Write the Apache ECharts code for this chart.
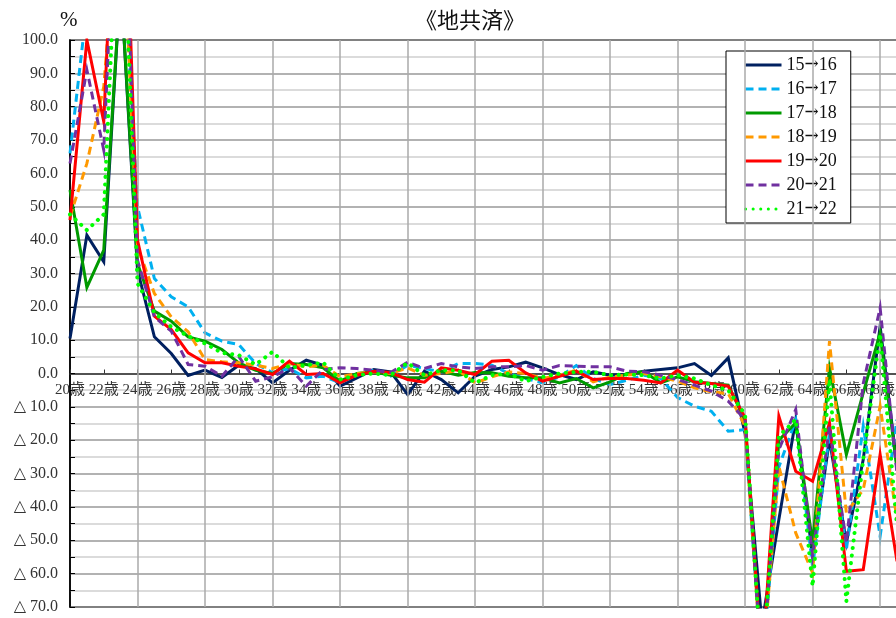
<!DOCTYPE html>
<html><head><meta charset="utf-8">
<script src="https://cdn.jsdelivr.net/npm/echarts@6/dist/echarts.min.js"></script>
<style>html,body{margin:0;padding:0;background:#fff}#c{width:896px;height:618px}</style>
</head><body><div id="c"></div>
<script>
const ages = ['20歳','21歳','22歳','23歳','24歳','25歳','26歳','27歳','28歳','29歳','30歳','31歳','32歳','33歳','34歳','35歳','36歳','37歳','38歳','39歳','40歳','41歳','42歳','43歳','44歳','45歳','46歳','47歳','48歳','49歳','50歳','51歳','52歳','53歳','54歳','55歳','56歳','57歳','58歳','59歳','60歳','61歳','62歳','63歳','64歳','65歳','66歳','67歳','68歳','69歳'];
const gridAges = ['24歳','28歳','32歳','36歳','40歳','44歳','48歳','52歳','56歳','60歳','64歳','68歳'];
const seriesNames = ['15→16','16→17','17→18','18→19','19→20','20→21','21→22'];
const s1516 = [10.5,41.5,33.5,118,31,11,6,-0.6,1,-1.2,2.5,1.5,-2.8,1,4,2.5,-3.8,-1.3,1.2,0.5,-6.3,0.7,-1.8,-5.8,-0.8,1.2,2,3.4,1.7,-0.3,-1.8,0.5,-0.5,-0.3,0.7,1.2,1.7,3,-0.6,4.7,-18,-75,-43.8,-13.8,-54.8,-19.8,-50.7,-25.8,14.2,-27.8];
const s1617 = [66,110,130,140,50,28.5,23,20,12.2,9.7,8.7,3,0.3,1.5,-1.3,-0.8,-2.8,-0.5,1,-0.8,2.5,1.5,0.5,3,3,2.5,0,-1.5,-2.8,-1,2.4,-1.5,-3.3,-2,-0.5,-1.5,-7.2,-9.8,-11.3,-17.3,-16.8,-90,-28,-14,-58,-17.8,-52.8,-15.8,-48.8,-13.8];
const s1718 = [55,25.8,37,118,33,18.7,15.7,11,9.7,7.2,3.2,1,0,3,2.7,1.7,-2.3,0,0.5,-0.5,-1.3,-1.3,0.7,-0.5,0.3,0.2,-0.8,-1.3,-1.3,-2.8,-1.5,-4.3,-2.5,0,0.5,-2.8,-1,-2.5,-3,-3.5,-14,-88,-20,-14.8,-50.8,1.7,-24.3,-5.8,12.2,-28.8];
const s1819 = [47,63,86,150,38,24,17,12.5,4.2,3.5,3.2,2.5,1.5,3,2,2.5,-1,0,0.5,0,1.7,-0.5,0,1,-2.8,-1,0.5,0,-1.5,-0.5,1,-2.5,-1,-0.5,0,-1,-2.3,-4.3,-5.5,-6,-15.8,-90,-27.8,-47.8,-59.8,9.7,-41.8,-34.8,-9.8,-43.8];
const s1920 = [46,100,75.5,190,40,17.2,13.2,6.2,3.2,3.2,2.2,1.4,-0.3,3.7,-0.3,0,-2.8,-0.5,0.7,0.3,-1.8,-2.6,1.7,1,-0.3,3.7,4,0.2,-2.3,-0.8,0.7,-1.8,-1.5,-1.5,-2,-2.8,1,-2.6,-3,-3.8,-13.3,-88,-12.8,-29.3,-32.3,-14.8,-59.3,-58.8,-24.3,-56.3];
const s2021 = [63,91,67,180,34,17,12.7,2.7,2.2,-0.8,5.1,-2.3,-1,1.7,-3.8,1.2,1.7,1.5,1,0.3,3.4,1.5,3,2,1.5,2,2,2.4,1,2.4,2.2,2,2,0.7,0.5,-0.5,-1.8,-3.5,-5.3,-8.3,-13.8,-90,-22.8,-10.8,-54.8,-15.8,-50.8,-3,19.7,-30];
const s2122 = [47.7,43,47.7,160,27,18.2,14,11.2,9,6.2,5.5,2.7,6.5,1.7,2.5,3.3,-1.8,-0.5,0,-0.5,3.2,-0.5,1,1,-2.8,-0.5,0,-2.3,-1,0,0.5,0.5,-0.5,-0.3,-0.5,-1.5,-0.5,-1.5,-3.5,-5,-12.3,-90,-18.8,-13.8,-63.8,-1.8,-68.3,-25.8,12,-45.8];

const allData = [s1516,s1617,s1718,s1819,s1920,s2021,s2122];
const colors = ['#002060','#00B0F0','#009A00','#FF9900','#FF0000','#7030A0','#00FF00'];
const dashes = ['solid',[8,5],'solid',[8,5],'solid',[8,5],[0.1,7.5]];
const serifFont = "'Liberation Serif','DejaVu Serif','Noto Sans CJK JP',serif";

const yMin = -70, yMax = 100, gridTop = 40, gridH = 567;
const zeroOffset = -gridH * (0 - yMin) / (yMax - yMin);

const lineSeries = allData.map((d, i) => ({
  name: seriesNames[i], type: 'line', data: d, symbol: 'none', clip: true,
  lineStyle: {color: colors[i], width: i === 6 ? 4 : 3, type: dashes[i], cap: i === 6 ? 'round' : 'butt', join: 'miter'},
  itemStyle: {color: colors[i]},
  z: 3 + i
}));
const gridSeries = {
  name: 'vgrid', type: 'line', data: [], silent: true, z: 1,
  markLine: {
    silent: true, symbol: ['none','none'], label: {show: false},
    lineStyle: {color: '#aaa', width: 1.5, type: 'solid'},
    emphasis: {disabled: true},
    data: gridAges.map(a => ({xAxis: a}))
  }
};

const chart = echarts.init(document.getElementById('c'), null, {renderer:'canvas'});
chart.setOption({
  animation: false,
  backgroundColor: '#fff',
  title: {
    text: '《地共済》', left: 465, top: 4, textAlign: 'center',
    textStyle: {fontFamily: "'Noto Sans CJK JP',sans-serif", fontSize: 22, fontWeight: 'normal', color: '#111'}
  },
  graphic: [{type:'text', left: 60, top: 10, style:{text:'%', fontFamily: serifFont, fontSize: 21, fill:'#111'}}],
  legend: {
    orient: 'vertical', left: 726, top: 51,
    data: seriesNames,
    itemWidth: 36, itemHeight: 14, itemGap: 6,
    padding: [5, 14, 5, 18],
    backgroundColor: '#fff', borderColor: '#000', borderWidth: 1,
    itemStyle: {opacity: 0},
    lineStyle: {width: 3},
    formatter: name => name.replace('→', '{a|→}'),
    textStyle: {
      fontFamily: serifFont, fontSize: 18, color: '#111',
      rich: {a: {fontFamily: "'DejaVu Serif'", fontSize: 17, color: '#111'}}
    }
  },
  grid: {left: 70, top: gridTop, width: 827, height: gridH, show: true, borderColor: '#000', borderWidth: 1.5, backgroundColor: 'transparent', outerBoundsMode: 'none', containLabel: false},
  xAxis: {
    type: 'category', data: ages, boundaryGap: false, position: 'bottom', offset: zeroOffset,
    axisLine: {onZero: false, lineStyle: {color: '#333', width: 1.5}},
    axisTick: {show: true, interval: 1, length: 4, inside: true, lineStyle:{color:'#333'}},
    axisLabel: {interval: 1, margin: 9, fontFamily: serifFont, fontSize: 15, color: '#333'},
    splitLine: {show: false}
  },
  yAxis: {
    type: 'value', min: yMin, max: yMax, interval: 10,
    axisLine: {show: true, lineStyle: {color: '#000', width: 1.5}},
    axisTick: {show: true, inside: true, length: 5, lineStyle: {color: '#000'}},
    minorTick: {show: true, splitNumber: 2, length: 5, lineStyle: {color: '#000'}},
    axisLabel: {
      margin: 12, fontFamily: serifFont, fontSize: 16, color: '#333',
      formatter: v => v < 0 ? '△ ' + Math.abs(v).toFixed(1) : v.toFixed(1)
    },
    splitLine: {show: true, lineStyle: {color: '#999', width: 1.5}},
    minorSplitLine: {show: true, lineStyle: {color: '#d0d0d0', width: 1.5}}
  },
  series: [gridSeries].concat(lineSeries)
});
</script></body></html>
